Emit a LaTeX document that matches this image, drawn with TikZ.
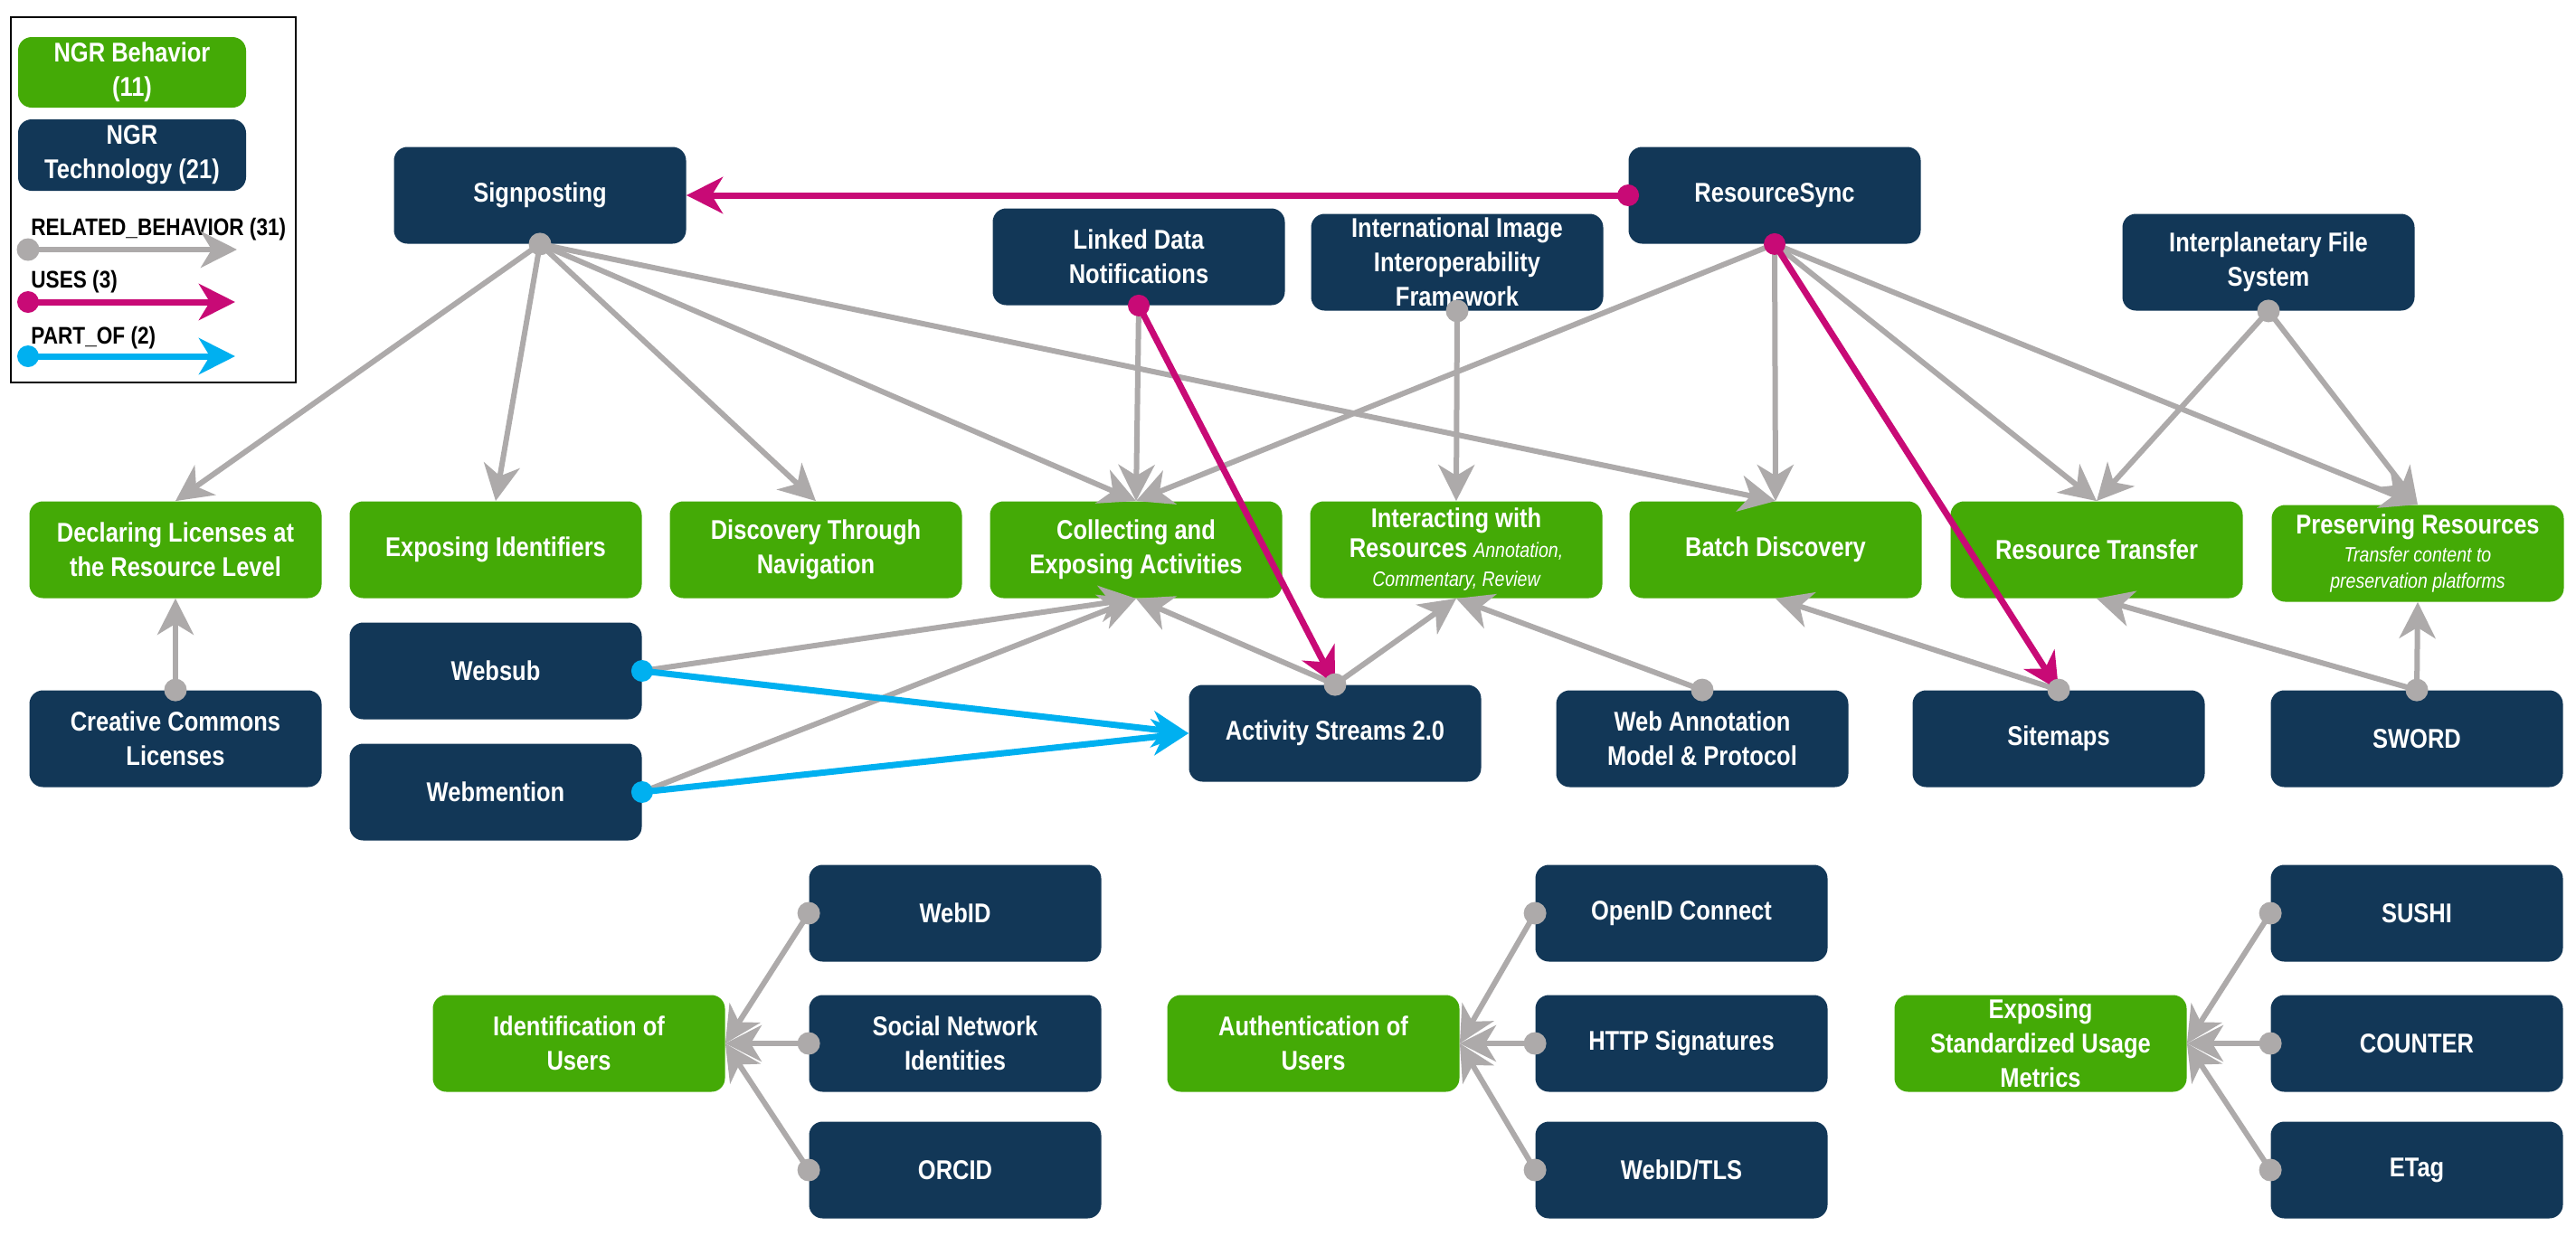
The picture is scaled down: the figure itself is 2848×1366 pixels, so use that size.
\documentclass[tikz,border=0pt]{standalone}
\usepackage{fontspec}
\setmainfont{Liberation Sans}[FakeStretch=0.85]
\usetikzlibrary{arrows.meta}
\definecolor{ngrgreen}{RGB}{68,170,6}
\definecolor{ngrnavy}{RGB}{18,55,87}
\definecolor{relgray}{RGB}{173,170,170}
\definecolor{usesmag}{RGB}{200,10,118}
\definecolor{partcyan}{RGB}{0,176,240}
\newcommand\ngrsub{\fontsize{11.5}{14}\selectfont\mdseries\itshape}

\begin{document}
\begin{tikzpicture}[x=0.5pt,y=-0.5pt,
  box/.style={rounded corners=7.5pt, minimum width=161.5pt, minimum height=53.5pt,
    inner sep=0pt, align=center, text=white, font=\fontsize{15}{19}\selectfont\bfseries},
  beh/.style={box, fill=ngrgreen},
  tech/.style={box, fill=ngrnavy},
  edgetip/.style={-{Stealth[length=20pt,width=20pt,inset=6pt]}},
  rel/.style={draw=relgray, line width=3pt, edgetip},
  uses/.style={draw=usesmag, line width=3.5pt, edgetip},
  partof/.style={draw=partcyan, line width=3.5pt, edgetip},
  legtext/.style={anchor=base west, inner sep=0pt, font=\fontsize{13.3}{16}\selectfont\bfseries}]

\fill[white] (0,0) rectangle (2848,1366);
\useasboundingbox (0,0) rectangle (2848,1366);

% ---------- legend ----------
\draw[line width=1pt] (12,19) rectangle (327,423);
\node[beh, minimum width=126pt, minimum height=39pt] (lbeh) at (146,80) {NGR Behavior\\(11)};
\node[tech, minimum width=126pt, minimum height=39.5pt] (ltech) at (146,171.5) {NGR\\Technology (21)};
\node[legtext] (lrel) at (34,260) {RELATED\_BEHAVIOR (31)};
\node[legtext] (luses) at (34,318) {USES (3)};
\node[legtext] (lpart) at (34,380) {PART\_OF (2)};
\coordinate (lrelA) at (31,276);  \coordinate (lrelB) at (262,276);
\coordinate (lusesA) at (31,334); \coordinate (lusesB) at (260,334);
\coordinate (lpartA) at (31,394); \coordinate (lpartB) at (260,394);

% ---------- technologies (top row) ----------
\node[tech] (sig) at (597,216) {Signposting};
\node[tech] (ldn) at (1259,284) {Linked Data\\Notifications};
\node[tech] (iiif) at (1611,290) {International Image\\Interoperability\\Framework};
\node[tech] (rs) at (1962,216) {ResourceSync};
\node[tech] (ipfs) at (2508,290) {Interplanetary File\\System};

% ---------- behaviors (middle row) ----------
\node[beh] (decl) at (194,608) {Declaring Licenses at\\the Resource Level};
\node[beh] (expid) at (548,608) {Exposing Identifiers};
\node[beh] (disc) at (902,608) {Discovery Through\\Navigation};
\node[beh] (coll) at (1256,608) {Collecting and\\Exposing Activities};
\node[beh] (inter) at (1610,608) {Interacting with\\[-2.5pt]Resources {\ngrsub Annotation,}\\[-3pt]{\ngrsub Commentary, Review}};
\node[beh] (batch) at (1963,608) {Batch Discovery};
\node[beh] (rt) at (2318,608) {Resource Transfer};
\node[beh] (pres) at (2673,612) {Preserving Resources\\[-3.5pt]{\ngrsub Transfer content to}\\[-4.5pt]{\ngrsub preservation platforms}};

% ---------- technologies (lower row) ----------
\node[tech] (cc) at (194,817) {Creative Commons\\Licenses};
\node[tech] (websub) at (548,742) {Websub};
\node[tech] (webm) at (548,876) {Webmention};
\node[tech] (as2) at (1476,811) {Activity Streams 2.0};
\node[tech] (wa) at (1882,817) {Web Annotation\\Model \& Protocol};
\node[tech] (sitemaps) at (2276,817) {Sitemaps};
\node[tech] (sword) at (2672,817) {SWORD};

% ---------- user / metrics groups ----------
\node[beh] (idu) at (640,1154) {Identification of\\Users};
\node[tech] (webid) at (1056,1010) {WebID};
\node[tech] (sni) at (1056,1154) {Social Network\\Identities};
\node[tech] (orcid) at (1056,1294) {ORCID};
\node[beh] (authu) at (1452,1154) {Authentication of\\Users};
\node[tech] (oidc) at (1859,1010) {OpenID Connect};
\node[tech] (https) at (1859,1154) {HTTP Signatures};
\node[tech] (webidtls) at (1859,1294) {WebID/TLS};
\node[beh] (esum) at (2256,1154) {Exposing\\Standardized Usage\\Metrics};
\node[tech] (sushi) at (2672,1010) {SUSHI};
\node[tech] (counter) at (2672,1154) {COUNTER};
\node[tech] (etag) at (2672,1294) {ETag};

% ---------- RELATED_BEHAVIOR ----------
\draw[rel] (lrelA) -- (lrelB);
\foreach \t in {decl,expid,disc,coll,batch} \draw[rel] (sig.south) -- (\t.north);
\foreach \t in {coll,batch,rt,pres} \draw[rel] (rs.south) -- (\t.north);
\draw[rel] (ldn.south) -- (coll.north);
\draw[rel] (iiif.south) -- (inter.north);
\draw[rel] (ipfs.south) -- (rt.north);
\draw[rel] (ipfs.south) -- (pres.north);
\draw[rel] (cc.north) -- (decl.south);
\draw[rel] (websub.east) -- (coll.south);
\draw[rel] (webm.east) -- (coll.south);
\draw[rel] (as2.north) -- (coll.south);
\draw[rel] (as2.north) -- (inter.south);
\draw[rel] (wa.north) -- (inter.south);
\draw[rel] (sitemaps.north) -- (batch.south);
\draw[rel] (sword.north) -- (rt.south);
\draw[rel] (sword.north) -- (pres.south);
\foreach \s in {webid,sni,orcid} \draw[rel] (\s.west) -- (idu.east);
\foreach \s in {oidc,https,webidtls} \draw[rel] (\s.west) -- (authu.east);
\foreach \s in {sushi,counter,etag} \draw[rel] (\s.west) -- (esum.east);

% ---------- USES ----------
\draw[uses] (lusesA) -- (lusesB);
\draw[uses] (rs.west) -- (sig.east);
\draw[uses] (ldn.south) -- (as2.north);
\draw[uses] (rs.south) -- (sitemaps.north);

% ---------- PART_OF ----------
\draw[partof] (lpartA) -- (lpartB);
\draw[partof] (websub.east) -- (as2.west);
\draw[partof] (webm.east) -- (as2.west);

% ---------- source dots ----------
\foreach \p in {lrelA,sig.south,iiif.south,ipfs.south,cc.north,as2.north,wa.north,
  sitemaps.north,sword.north,webid.west,sni.west,orcid.west,oidc.west,https.west,
  webidtls.west,sushi.west,counter.west,etag.west}
  \fill[relgray] (\p) circle[radius=6.25pt];
\foreach \p in {lusesA,rs.west,rs.south,ldn.south}
  \fill[usesmag] (\p) circle[radius=6pt];
\foreach \p in {lpartA,websub.east,webm.east}
  \fill[partcyan] (\p) circle[radius=6pt];
\end{tikzpicture}
\end{document}
